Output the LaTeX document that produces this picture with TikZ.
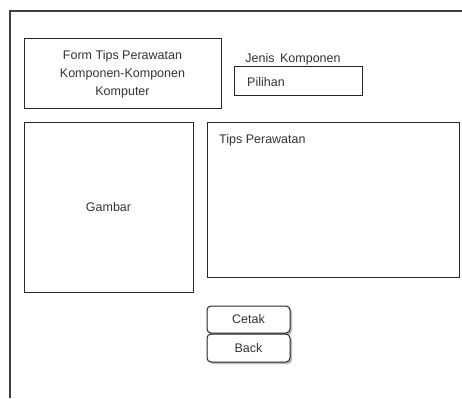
\documentclass[tikz,border=0pt]{standalone}
\usepackage{fontspec}
\setmainfont{Liberation Sans}
\usetikzlibrary{shadows}
\begin{document}
\begin{tikzpicture}[x=1pt,y=-1pt,
  panel/.style={draw=black!85, line width=1pt, inner sep=0pt},
  caption/.style={font=\fontsize{12.5}{18}\selectfont, text=black!80, inner sep=0pt},
  button/.style={panel, rounded corners=4pt, fill=white,
    minimum width=83pt, font=\fontsize{12.5}{15}\selectfont, text=black!80,
    drop shadow={shadow xshift=2pt, shadow yshift=-2pt, fill=black!55}},
]
\useasboundingbox (0,0) rectangle (462,398);
% window frame (top and left edges only)
\draw[black!75, line width=1.4pt] (10,398) -- (10,11) -- (462,11);

% title panel
\node[panel, minimum width=197pt, minimum height=70pt, align=center,
  font=\fontsize{12.5}{18}\selectfont, text=black!80] (form) at (122.5,74)
  {Form Tips Perawatan\\Komponen-Komponen\\Komputer};

% component selector
\node[caption] (jenis) at (293,59) {Jenis\, Komponen};
\node[panel, minimum width=128pt, minimum height=29pt] (pilihan) at (298,81.5) {};
\node[caption, anchor=west] (pilihantext) at (247,82) {Pilihan};

% picture area
\node[panel, minimum width=169pt, minimum height=169pt, caption] (gambar) at (108.5,207.5) {Gambar};

% tips area
\node[panel, minimum width=252pt, minimum height=154pt] (tips) at (333,200) {};
\node[caption, anchor=west] (tipstext) at (219,140) {Tips Perawatan};

% buttons
\node[button, minimum height=27pt] (cetak) at (248.5,319.5) {Cetak};
\node[button, minimum height=28pt] (back) at (248.5,348) {Back};
\end{tikzpicture}
\end{document}
